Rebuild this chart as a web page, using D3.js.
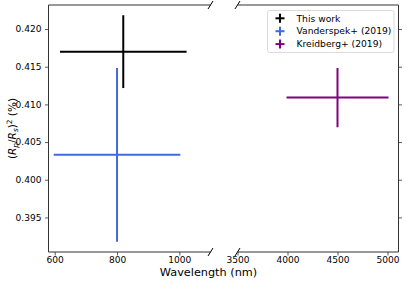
<!DOCTYPE html>
<html>
<head>
<meta charset="utf-8">
<script src="https://cdn.jsdelivr.net/npm/d3@7"></script>
<style>
  html, body { margin: 0; padding: 0; background: #fff; }
  svg { display: block; }
  svg text { font-family: "DejaVu Sans", sans-serif; }
</style>
</head>
<body>
<svg id="chart" width="407" height="285"></svg>
<script>
// ---- data ----
const seriesNames = ["This work", "Vanderspek+ (2019)", "Kreidberg+ (2019)"];
const seriesX = [820, 800, 4500];
const seriesXErr = [200, 200, 500];
const seriesY = [0.4170, 0.4033, 0.4109];
const seriesYErr = [0.0047, 0.0114, 0.0038];
const seriesColors = ["#000000", "#4169e1", "#800080"];

const leftXTicks = [600, 800, 1000];
const rightXTicks = [3500, 4000, 4500, 5000];
const yTicks = [0.395, 0.400, 0.405, 0.410, 0.415, 0.420];
const leftXDomain = [580, 1100];
const rightXDomain = [3500, 5110];

// ---- layout ----
const plotTop = 5, plotBottom = 252;
const leftPanel = [48.5, 210.5];
const rightPanel = [237.5, 398.5];
const FONT = "'DejaVu Sans', sans-serif";
const spineColor = "#333";

const svg = d3.select("#chart");

// font sizes fitted to the reference text widths
function fitSize(str, targetWidth) {
  const t = svg.append("text").attr("font-family", FONT).attr("font-size", 10).text(str);
  const w = t.node().getComputedTextLength();
  t.remove();
  return 10 * targetWidth / w;
}
const tickFs = fitSize("0.420", 26);
const legendFs = fitSize("Vanderspek+ (2019)", 95);
const xLabelFs = fitSize("Wavelength (nm)", 97.5);
const yLabelFs = Math.min(xLabelFs, 10.5);

const yMin = d3.min(seriesY.map((v, i) => v - seriesYErr[i]));
const yMax = d3.max(seriesY.map((v, i) => v + seriesYErr[i]));
const yPad = (yMax - yMin) * 0.05;
const y = d3.scaleLinear().domain([yMin - yPad, yMax + yPad]).range([plotBottom, plotTop]);

const xL = d3.scaleLinear().domain(leftXDomain).range(leftPanel);
const xR = d3.scaleLinear().domain(rightXDomain).range(rightPanel);

function styleAxis(g, showLabels) {
  g.attr("font-family", FONT);
  g.select(".domain").remove();
  g.selectAll(".tick line").attr("stroke", spineColor).attr("stroke-width", 0.8);
  g.selectAll(".tick text")
    .attr("font-family", FONT)
    .attr("font-size", tickFs)
    .attr("fill", "#000");
  if (!showLabels) g.selectAll(".tick text").remove();
}
function placeXLabels(g) {
  g.selectAll(".tick text").attr("y", 10.7).attr("dy", null);
}

// X axes
svg.append("g").attr("transform", `translate(0,${plotBottom})`)
  .call(d3.axisBottom(xL).tickValues(leftXTicks).tickFormat(d3.format("d")).tickSize(3.5))
  .call(g => styleAxis(g, true)).call(placeXLabels);
svg.append("g").attr("transform", `translate(0,${plotBottom})`)
  .call(d3.axisBottom(xR).tickValues(rightXTicks).tickFormat(d3.format("d")).tickSize(3.5))
  .call(g => styleAxis(g, true)).call(placeXLabels);

// Y axes
svg.append("g").attr("transform", `translate(${leftPanel[0]},0)`)
  .call(d3.axisLeft(y).tickValues(yTicks).tickFormat(d3.format(".3f")).tickSize(3.5).tickPadding(3.5))
  .call(g => styleAxis(g, true));
svg.append("g").attr("transform", `translate(${rightPanel[1]},0)`)
  .call(d3.axisRight(y).tickValues(yTicks).tickSize(3.5))
  .call(g => styleAxis(g, false));

// Spines
const spines = svg.append("g").attr("stroke", spineColor).attr("stroke-width", 1).attr("fill", "none");
spines.append("path").attr("d", `M${leftPanel[1]},${plotTop}H${leftPanel[0]}V${plotBottom}H${leftPanel[1]}`);
spines.append("path").attr("d", `M${rightPanel[0]},${plotTop}H${rightPanel[1]}V${plotBottom}H${rightPanel[0]}`);

// Break marks
const brk = svg.append("g").attr("stroke", "#000").attr("stroke-width", 1);
[leftPanel[1], rightPanel[0]].forEach(px => {
  [plotTop, plotBottom].forEach(py => {
    brk.append("line").attr("x1", px - 2.5).attr("y1", py + 4).attr("x2", px + 2.5).attr("y2", py - 4);
  });
});

// Error bars
const marks = svg.append("g");
seriesNames.forEach((name, i) => {
  const sx = seriesX[i] >= rightXDomain[0] ? xR : xL;
  const g = marks.append("g").attr("stroke", seriesColors[i]).attr("stroke-width", 2).attr("stroke-linecap", "square");
  g.append("line")
    .attr("x1", sx(seriesX[i] - seriesXErr[i])).attr("x2", sx(seriesX[i] + seriesXErr[i]))
    .attr("y1", y(seriesY[i])).attr("y2", y(seriesY[i]));
  g.append("line")
    .attr("x1", sx(seriesX[i])).attr("x2", sx(seriesX[i]))
    .attr("y1", y(seriesY[i] - seriesYErr[i])).attr("y2", y(seriesY[i] + seriesYErr[i]));
});

// Legend
const lg = svg.append("g");
lg.append("rect")
  .attr("x", 267.5).attr("y", 10.5).attr("width", 126.5).attr("height", 42)
  .attr("rx", 2).attr("fill", "#fff").attr("fill-opacity", 0.8)
  .attr("stroke", "#d0d0d0").attr("stroke-width", 0.8);
seriesNames.forEach((name, i) => {
  const cy = 18.3 + i * 12.9;
  const g = lg.append("g").attr("stroke", seriesColors[i]).attr("stroke-width", 2);
  g.append("line").attr("x1", 275.5).attr("x2", 284.5).attr("y1", cy).attr("y2", cy);
  g.append("line").attr("x1", 280).attr("x2", 280).attr("y1", cy - 4.5).attr("y2", cy + 4.5);
  lg.append("text").attr("x", 296.5).attr("y", cy).attr("dy", "0.35em")
    .attr("font-family", FONT).attr("font-size", legendFs).attr("fill", "#000").text(name);
});

// X label
svg.append("text").attr("x", 208.5).attr("y", 275.7)
  .attr("font-family", FONT).attr("text-anchor", "middle").attr("font-size", xLabelFs).text("Wavelength (nm)");

// Y label
const sub = yLabelFs * 0.7;
const yl = svg.append("text")
  .attr("transform", `translate(15.5,${(plotTop + plotBottom) / 2}) rotate(-90)`)
  .attr("font-family", FONT)
  .attr("text-anchor", "middle").attr("font-size", yLabelFs);
yl.append("tspan").text("(");
yl.append("tspan").attr("font-style", "italic").text("R");
yl.append("tspan").attr("font-style", "italic").attr("font-size", sub).attr("dy", 2.2).text("p");
yl.append("tspan").attr("dy", -2.2).text("/");
yl.append("tspan").attr("font-style", "italic").text("R");
yl.append("tspan").attr("font-style", "italic").attr("font-size", sub).attr("dy", 2.2).text("s");
yl.append("tspan").attr("dy", -2.2).text(")");
yl.append("tspan").attr("font-size", sub).attr("dy", -4).text("2");
yl.append("tspan").attr("dy", 4).text(" (%)");
</script>
</body>
</html>
